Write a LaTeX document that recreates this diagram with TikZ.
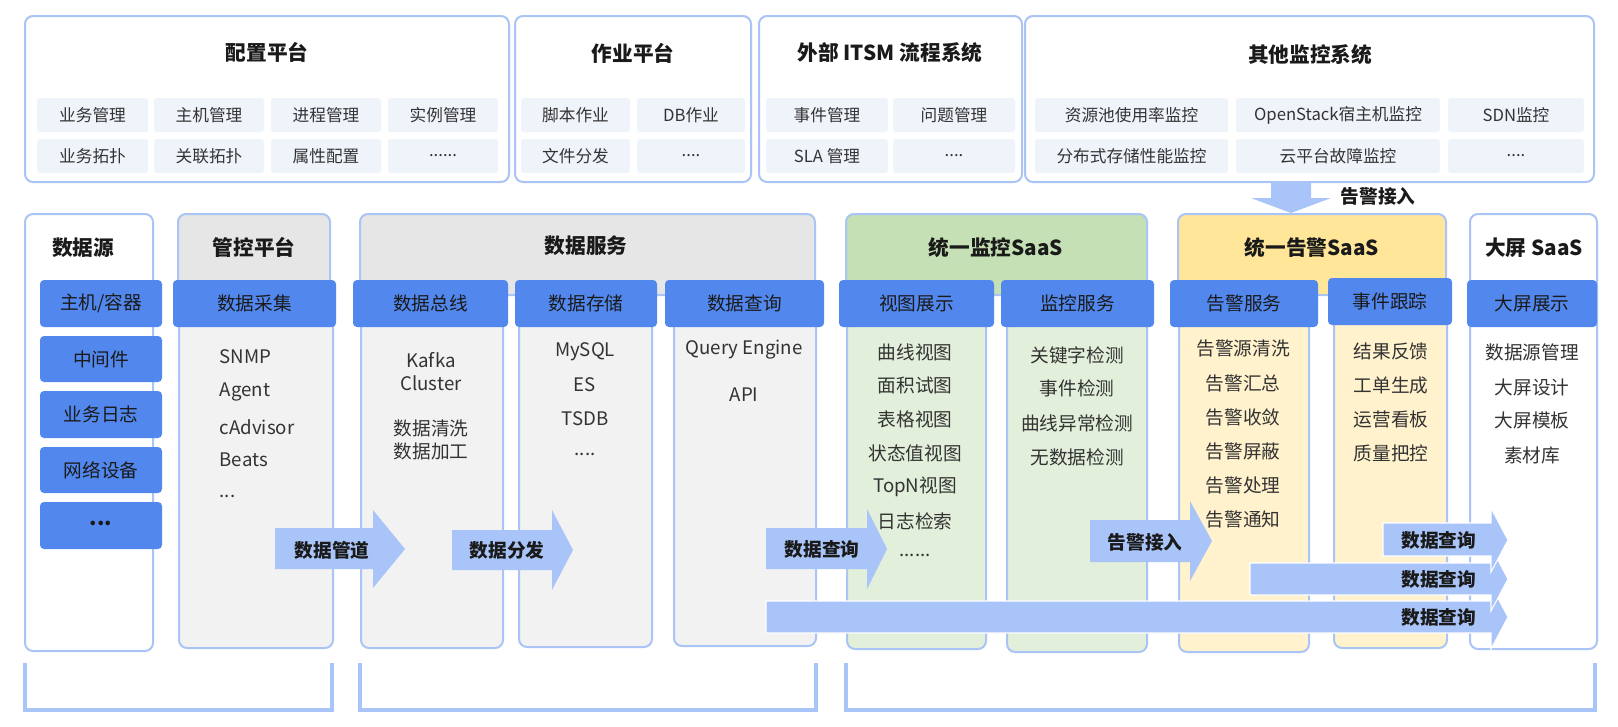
\documentclass[tikz,border=0pt]{standalone}
\usepackage{fontspec}
\setmainfont{Noto Sans CJK SC}
\definecolor{linec}{RGB}{170,196,245}
\definecolor{headc}{RGB}{82,136,238}
\definecolor{arrowc}{RGB}{168,196,248}
\definecolor{cellc}{RGB}{239,243,250}
\definecolor{grayhead}{RGB}{230,230,230}
\definecolor{graycol}{RGB}{242,242,242}
\definecolor{greenhead}{RGB}{197,224,180}
\definecolor{greencol}{RGB}{226,239,218}
\definecolor{yellowhead}{RGB}{255,230,153}
\definecolor{yellowcol}{RGB}{255,242,204}
\definecolor{titlec}{RGB}{26,26,26}
\definecolor{itemc}{RGB}{51,51,51}
\begin{document}
\begin{tikzpicture}[x=0.75pt,y=0.75pt,yscale=-1,xscale=1,
  panel/.style={draw=linec,line width=1.5pt,rounded corners=6pt},
  cell/.style={fill=cellc,rounded corners=2pt},
  bluehead/.style={fill=headc,rounded corners=3pt},
  bigarrow/.style={fill=arrowc},
  stackarrow/.style={fill=arrowc,draw=white,line width=0.8pt},
  bracket/.style={draw=arrowc,line width=2.6pt},
  ptitle/.style={font=\fontsize{15.5}{18}\selectfont\bfseries,text=titlec},
  celltext/.style={font=\fontsize{12.5}{15}\selectfont,text=itemc},
  headtext/.style={font=\fontsize{14}{16}\selectfont,text=titlec},
  itemtext/.style={font=\fontsize{14}{16}\selectfont,text=itemc},
  arrtext/.style={font=\fontsize{14}{16}\selectfont\bfseries,text=titlec}]
\useasboundingbox (0,0) rectangle (1618,726);

%Shape: Rectangle - top panels
\draw[panel,fill=white] (25,16) rectangle (509,182);
\draw[panel,fill=white] (515,16) rectangle (751,182);
\draw[panel,fill=white] (759,16) rectangle (1022,182);
\draw[panel,fill=white] (1025,16) rectangle (1594,182);

%Shape: Rectangle - cells of 配置平台
\fill[cell] (37,98) rectangle (148,132);
\fill[cell] (154,98) rectangle (264,132);
\fill[cell] (271,98) rectangle (381,132);
\fill[cell] (388,98) rectangle (498,132);
\fill[cell] (37,139) rectangle (148,173);
\fill[cell] (154,139) rectangle (264,173);
\fill[cell] (271,139) rectangle (381,173);
\fill[cell] (388,139) rectangle (498,173);
%Shape: Rectangle - cells of 作业平台
\fill[cell] (521,98) rectangle (630,132);
\fill[cell] (637,98) rectangle (745,132);
\fill[cell] (521,139) rectangle (630,173);
\fill[cell] (637,139) rectangle (745,173);
%Shape: Rectangle - cells of ITSM
\fill[cell] (766,98) rectangle (888,132);
\fill[cell] (893,98) rectangle (1015,132);
\fill[cell] (766,139) rectangle (888,173);
\fill[cell] (893,139) rectangle (1015,173);
%Shape: Rectangle - cells of 其他监控系统
\fill[cell] (1035,98) rectangle (1228,132);
\fill[cell] (1236,98) rectangle (1440,132);
\fill[cell] (1448,98) rectangle (1584,132);
\fill[cell] (1035,139) rectangle (1228,173);
\fill[cell] (1236,139) rectangle (1440,173);
\fill[cell] (1448,139) rectangle (1584,173);

% Text Node
\draw (267,52) node[ptitle] (peizhi) {配置平台};
\draw (633,53) node[ptitle] (zuoye) {作业平台};
\draw (890,53) node[ptitle] (itsm) {外部 ITSM 流程系统};
\draw (1310,55) node[ptitle] (qita) {其他监控系统};
% Text Node
\draw (92.5,115) node[celltext] (pz1) {业务管理};
\draw (209,115) node[celltext] (pz2) {主机管理};
\draw (326,115) node[celltext] (pz3) {进程管理};
\draw (443,115) node[celltext] (pz4) {实例管理};
\draw (92.5,156) node[celltext] (pz5) {业务拓扑};
\draw (209,156) node[celltext] (pz6) {关联拓扑};
\draw (326,156) node[celltext] (pz7) {属性配置};
\draw (443,156) node[celltext] (pz8) {......};
% Text Node
\draw (575.5,115) node[celltext] (zy1) {脚本作业};
\draw (691,115) node[celltext] (zy2) {DB作业};
\draw (575.5,156) node[celltext] (zy3) {文件分发};
\draw (691,156) node[celltext] (zy4) {....};
% Text Node
\draw (827,115) node[celltext] (it1) {事件管理};
\draw (954,115) node[celltext] (it2) {问题管理};
\draw (827,156) node[celltext] (it3) {SLA 管理};
\draw (954,156) node[celltext] (it4) {....};
% Text Node
\draw (1131.5,115) node[celltext] (qt1) {资源池使用率监控};
\draw (1338,115) node[celltext] (qt2) {OpenStack宿主机监控};
\draw (1516,115) node[celltext] (qt3) {SDN监控};
\draw (1131.5,156) node[celltext] (qt4) {分布式存储性能监控};
\draw (1338,156) node[celltext] (qt5) {云平台故障监控};
\draw (1516,156) node[celltext] (qt6) {....};

%Shape: Down arrow 告警接入
\fill[bigarrow] (1271,182) -- (1311,182) -- (1311,198) -- (1331,198) -- (1291,213) -- (1251,198) -- (1271,198) -- cycle;
\draw (1378,196) node[arrtext] (gjtop) {告警接入};

%Shape: Rectangle - 数据源
\draw[panel,fill=white] (25,214) rectangle (153,651);
%Shape: Rectangle - 管控平台
\draw[panel,fill=grayhead] (178,214) rectangle (330,295);
\draw[panel,fill=graycol] (179,283) rectangle (333,648);
%Shape: Rectangle - 数据服务
\draw[panel,fill=grayhead] (360,214) rectangle (815,295);
\draw[panel,fill=graycol] (361,283) rectangle (503,648);
\draw[panel,fill=graycol] (519,283) rectangle (652,647);
\draw[panel,fill=graycol] (674,283) rectangle (816,646);
%Shape: Rectangle - 统一监控SaaS
\draw[panel,fill=greenhead] (846,214) rectangle (1147,295);
\draw[panel,fill=greencol] (847,283) rectangle (986,649);
\draw[panel,fill=greencol] (1007,283) rectangle (1147,652);
%Shape: Rectangle - 统一告警SaaS
\draw[panel,fill=yellowhead] (1178,214) rectangle (1446,295);
\draw[panel,fill=yellowcol] (1179,283) rectangle (1309,652);
\draw[panel,fill=yellowcol] (1334,283) rectangle (1447,648);
%Shape: Rectangle - 大屏 SaaS
\draw[panel,fill=white] (1470,214) rectangle (1597,649);

%Shape: Rectangle - blue headers
\fill[bluehead] (40,280) rectangle (162,327);
\fill[bluehead] (40,336) rectangle (162,382);
\fill[bluehead] (40,391) rectangle (162,438);
\fill[bluehead] (40,447) rectangle (162,493);
\fill[bluehead] (40,502) rectangle (162,549);
\fill[bluehead] (173,280) rectangle (336,327);
\fill[bluehead] (353,280) rectangle (508,327);
\fill[bluehead] (515,280) rectangle (657,327);
\fill[bluehead] (665,280) rectangle (824,327);
\fill[bluehead] (839,280) rectangle (994,327);
\fill[bluehead] (1001,280) rectangle (1154,327);
\fill[bluehead] (1170,280) rectangle (1318,327);
\fill[bluehead] (1328,278) rectangle (1452,325);
\fill[bluehead] (1467,280) rectangle (1597,327);

%Shape: Block arrows
\fill[bigarrow] (275,528) -- (373,528) -- (373,510) -- (405,549) -- (373,588) -- (373,569) -- (275,569) -- cycle;
\fill[bigarrow] (452,530) -- (552,530) -- (552,510) -- (573,550) -- (552,590) -- (552,570) -- (452,570) -- cycle;
\fill[bigarrow] (766,528) -- (867,528) -- (867,509) -- (887,549) -- (867,589) -- (867,569) -- (766,569) -- cycle;
\fill[bigarrow] (1090,520) -- (1190,520) -- (1190,501) -- (1212,541) -- (1190,581) -- (1190,562) -- (1090,562) -- cycle;
\filldraw[stackarrow] (766,601) -- (1491,601) -- (1491,585) -- (1508,617) -- (1491,649) -- (1491,633) -- (766,633) -- cycle;
\filldraw[stackarrow] (1250,563) -- (1491,563) -- (1491,547) -- (1508,579) -- (1491,611) -- (1491,595) -- (1250,595) -- cycle;
\filldraw[stackarrow] (1383,523) -- (1491,523) -- (1491,508) -- (1508,540) -- (1491,572) -- (1491,556) -- (1383,556) -- cycle;

% Text Node - titles
\draw (83,248) node[ptitle] (shujuyuan) {数据源};
\draw (254,247) node[ptitle] (guankong) {管控平台};
\draw (586,246) node[ptitle] (fuwu) {数据服务};
\draw (996,248) node[ptitle] (jiankong) {统一监控SaaS};
\draw (1312,248) node[ptitle] (gaojing) {统一告警SaaS};
\draw (1534,248) node[ptitle] (daping) {大屏 SaaS};

% Text Node - blue headers
\draw (101,303.5) node[headtext] (src1) {主机/容器};
\draw (101,359) node[headtext] (src2) {中间件};
\draw (101,414.5) node[headtext] (src3) {业务日志};
\draw (101,470) node[headtext] (src4) {网络设备};
\draw (101,523) node[headtext,font=\fontsize{16}{16}\selectfont\bfseries] (src5) {...};
\draw (254.5,303.5) node[headtext] (caiji) {数据采集};
\draw (430.5,303.5) node[headtext] (zongxian) {数据总线};
\draw (586,303.5) node[headtext] (cunchu) {数据存储};
\draw (744.5,303.5) node[headtext] (chaxun) {数据查询};
\draw (916.5,303.5) node[headtext] (shitu) {视图展示};
\draw (1077.5,303.5) node[headtext] (jkfw) {监控服务};
\draw (1244,303.5) node[headtext] (gjfw) {告警服务};
\draw (1390,301.5) node[headtext] (genzong) {事件跟踪};
\draw (1532,303.5) node[headtext] (zhanshi) {大屏展示};

% Text Node - 管控平台
\draw (215,357) node[itemtext,anchor=west] (gk1) {SNMP};
\draw (215,392) node[itemtext,anchor=west] (gk2) {Agent};
\draw (215,427) node[itemtext,anchor=west] (gk3) {cAdvisor};
\draw (215,460) node[itemtext,anchor=west] (gk4) {Beats};
\draw (215,496) node[itemtext,anchor=west] (gk5) {...};
% Text Node - 数据服务
\draw (431,360) node[itemtext] (zx1) {Kafka};
\draw (431,383) node[itemtext] (zx2) {Cluster};
\draw (431,428) node[itemtext] (zx3) {数据清洗};
\draw (431,451) node[itemtext] (zx4) {数据加工};
\draw (585,352) node[itemtext] (cc1) {MySQL};
\draw (585,385) node[itemtext] (cc2) {ES};
\draw (585,419) node[itemtext] (cc3) {TSDB};
\draw (585,454) node[itemtext] (cc4) {....};
\draw (744,350) node[itemtext] (cx1) {Query Engine};
\draw (744,395) node[itemtext] (cx2) {API};
% Text Node - 统一监控SaaS
\draw (915,352) node[itemtext] (st1) {曲线视图};
\draw (915,385) node[itemtext] (st2) {面积试图};
\draw (915,419) node[itemtext] (st3) {表格视图};
\draw (915,453) node[itemtext] (st4) {状态值视图};
\draw (915,487) node[itemtext] (st5) {TopN视图};
\draw (915,521) node[itemtext] (st6) {日志检索};
\draw (915,555) node[itemtext] (st7) {......};
\draw (1077,355) node[itemtext] (jk1) {关键字检测};
\draw (1077,388) node[itemtext] (jk2) {事件检测};
\draw (1077,423) node[itemtext] (jk3) {曲线异常检测};
\draw (1077,457) node[itemtext] (jk4) {无数据检测};
% Text Node - 统一告警SaaS
\draw (1243,348) node[itemtext] (gj1) {告警源清洗};
\draw (1243,383) node[itemtext] (gj2) {告警汇总};
\draw (1243,417) node[itemtext] (gj3) {告警收敛};
\draw (1243,451) node[itemtext] (gj4) {告警屏蔽};
\draw (1243,485) node[itemtext] (gj5) {告警处理};
\draw (1243,519) node[itemtext] (gj6) {告警通知};
\draw (1391,351) node[itemtext] (gz1) {结果反馈};
\draw (1391,385) node[itemtext] (gz2) {工单生成};
\draw (1391,419) node[itemtext] (gz3) {运营看板};
\draw (1391,453) node[itemtext] (gz4) {质量把控};
% Text Node - 大屏 SaaS
\draw (1532,352) node[itemtext] (dp1) {数据源管理};
\draw (1532,387) node[itemtext] (dp2) {大屏设计};
\draw (1532,420) node[itemtext] (dp3) {大屏模板};
\draw (1532,455) node[itemtext] (dp4) {素材库};

% Text Node - arrow labels
\draw (332,550) node[arrtext] (guandao) {数据管道};
\draw (507,550) node[arrtext] (fenfa) {数据分发};
\draw (822,549) node[arrtext] (query1) {数据查询};
\draw (1145,542) node[arrtext] (jieru) {告警接入};
\draw (1481,540) node[arrtext,anchor=east] (query2) {数据查询};
\draw (1481,579) node[arrtext,anchor=east] (query3) {数据查询};
\draw (1481,617) node[arrtext,anchor=east] (query4) {数据查询};

%Straight Lines - brackets
\draw[bracket] (25,663) -- (25,710) -- (332,710) -- (332,663);
\draw[bracket] (360,663) -- (360,710) -- (816,710) -- (816,663);
\draw[bracket] (846,663) -- (846,710) -- (1595,710) -- (1595,663);

\end{tikzpicture}
\end{document}
